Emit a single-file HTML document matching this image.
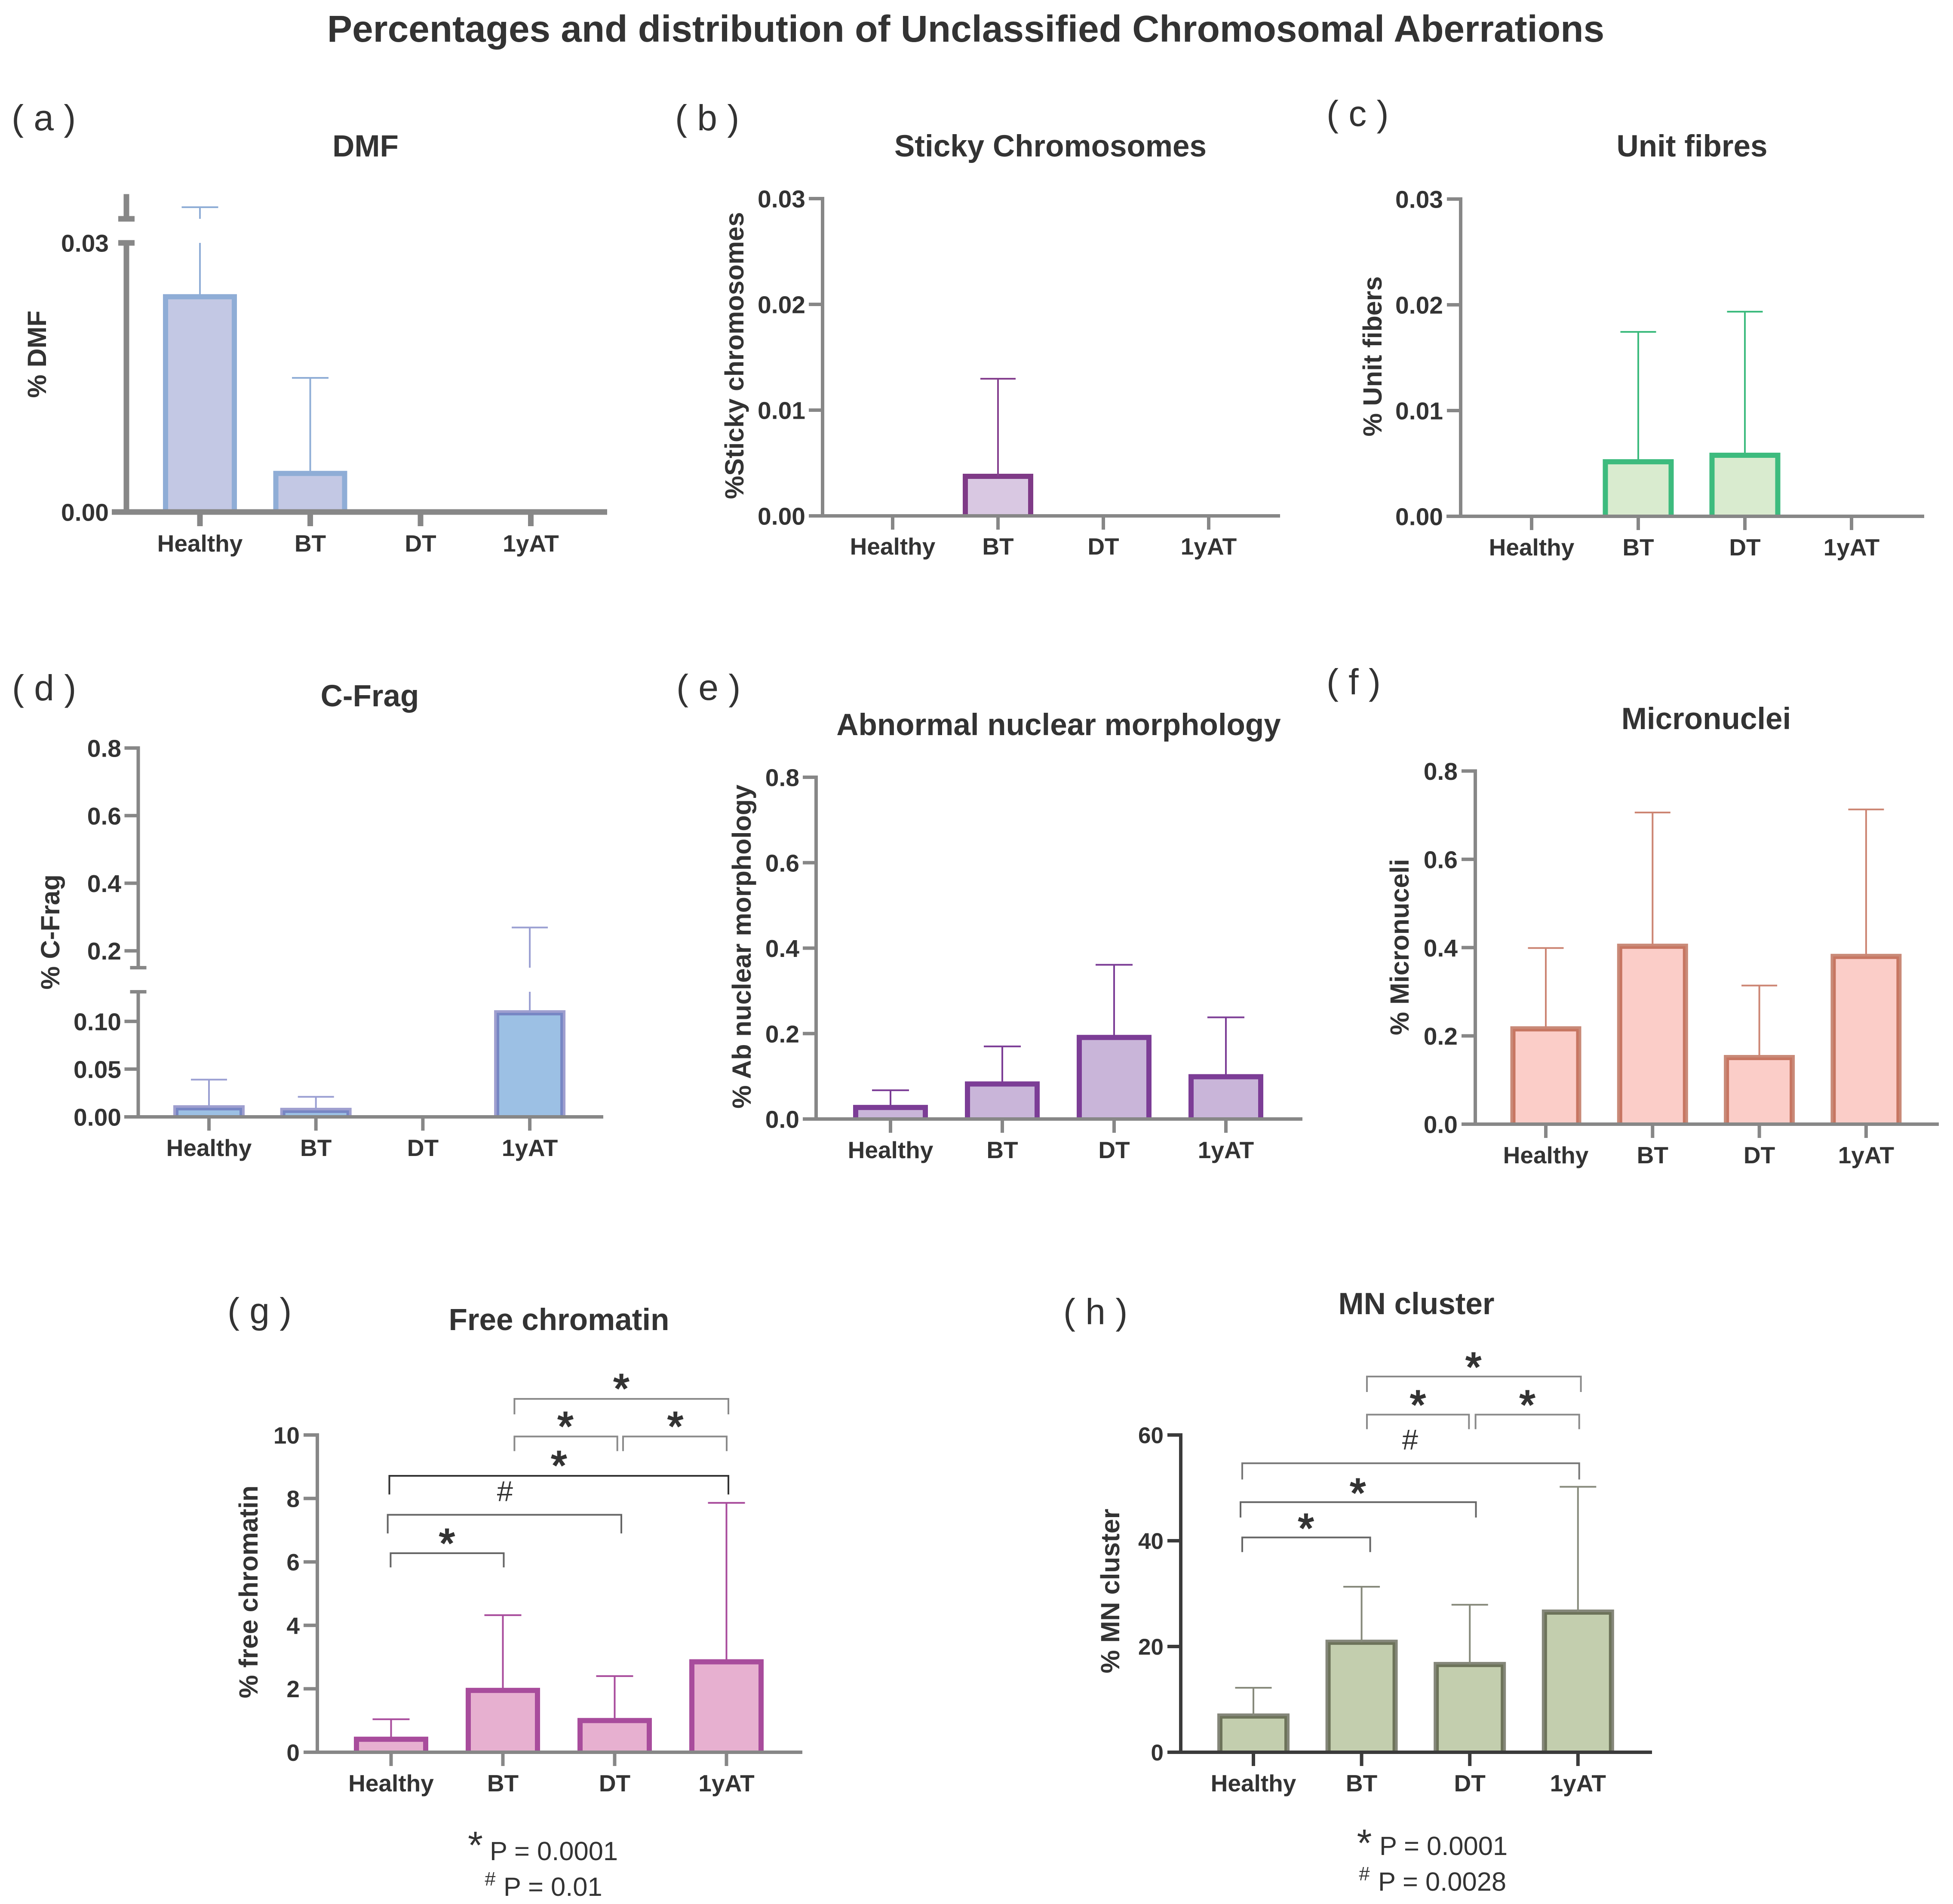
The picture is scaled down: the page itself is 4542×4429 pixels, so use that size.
<!DOCTYPE html>
<html lang="en">
<head>
<meta charset="utf-8">
<title>Percentages and distribution of Unclassified Chromosomal Aberrations</title>
<style>
html,body{margin:0;padding:0;background:#fff;}
svg{display:block;}
text{font-family:"Liberation Sans",Arial,sans-serif;fill:#333;}
.t{font-weight:700;font-size:71px;text-anchor:middle;}
.yl{font-weight:700;font-size:61px;text-anchor:middle;}
.pl{font-size:84px;fill:#333;}
.st{font-size:95px;text-anchor:middle;stroke:#333;stroke-width:3;}
.hs{font-size:67px;text-anchor:middle;}
.ft{font-size:61.5px;}
.br{fill:none;stroke-width:4;}
</style>
</head>
<body>
<svg id="chart" xmlns="http://www.w3.org/2000/svg" width="4542" height="4429" viewBox="0 0 4542 4429">
<rect width="4542" height="4429" fill="#fff"/>
<text x="2246" y="97" text-anchor="middle" font-weight="700" font-size="87.3">Percentages and distribution of Unclassified Chromosomal Aberrations</text>

<text class="pl" x="27" y="303">( a )</text>
<text class="pl" x="1570" y="303">( b )</text>
<text class="pl" x="3085" y="293">( c )</text>
<text class="pl" x="28" y="1629">( d )</text>
<text class="pl" x="1573" y="1628">( e )</text>
<text class="pl" x="3085" y="1615">( f )</text>
<text class="pl" x="529" y="3078">( g )</text>
<text class="pl" x="2473" y="3080">( h )</text>

<text class="t" x="850" y="364">DMF</text>
<text class="t" x="2443" y="364">Sticky Chromosomes</text>
<text class="t" x="3935" y="364">Unit fibres</text>
<text class="t" x="860" y="1643">C-Frag</text>
<text class="t" x="2462" y="1710">Abnormal nuclear morphology</text>
<text class="t" x="3968" y="1696">Micronuclei</text>
<text class="t" x="1300" y="3094">Free chromatin</text>
<text class="t" x="3294" y="3057">MN cluster</text>

<text class="yl" transform="translate(107,824) rotate(-90)">% DMF</text>
<text class="yl" transform="translate(1729,827) rotate(-90)">%Sticky chromosomes</text>
<text class="yl" transform="translate(3213,829) rotate(-90)">% Unit fibers</text>
<text class="yl" transform="translate(138,2168) rotate(-90)">% C-Frag</text>
<text class="yl" transform="translate(1746,2202) rotate(-90)">% Ab nuclear morphology</text>
<text class="yl" transform="translate(3276,2203) rotate(-90)">% Micronuceli</text>
<text class="yl" transform="translate(599,3703) rotate(-90)">% free chromatin</text>
<text class="yl" transform="translate(2603,3701) rotate(-90)">% MN cluster</text>

<g id="plots"></g>

<g>
<path class="br" stroke="#8a8a8a" d="M1196.4 3290V3254H1694V3290"/>
<path class="br" stroke="#8a8a8a" d="M1196.4 3375.5V3341.5H1435.7V3375.5"/>
<path class="br" stroke="#8a8a8a" d="M1449 3375.5V3341.5H1690V3375.5"/>
<path class="br" stroke="#333" d="M905.5 3476.4V3433H1694V3476.4"/>
<path class="br" stroke="#666" d="M901.7 3567V3523.6H1445V3567"/>
<path class="br" stroke="#666" d="M908.4 3646V3613H1171.5V3646"/>
<text class="st" x="1445" y="3262">*</text>
<text class="st" x="1315" y="3350">*</text>
<text class="st" x="1570.6" y="3350">*</text>
<text class="st" x="1300" y="3441">*</text>
<text class="hs" x="1174.4" y="3492">#</text>
<text class="st" x="1039.5" y="3622">*</text>
<text font-size="90" text-anchor="middle" x="1105.5" y="4323">*</text>
<text class="ft" x="1139" y="4327">P = 0.0001</text>
<text font-size="45" text-anchor="middle" x="1140" y="4386">#</text>
<text class="ft" x="1171" y="4410">P = 0.01</text>
</g>

<g>
<path class="br" stroke="#8a8a8a" d="M3179 3238V3202H3676.6V3238"/>
<path class="br" stroke="#8a8a8a" d="M3179 3324.5V3290.6H3416.3V3324.5"/>
<path class="br" stroke="#8a8a8a" d="M3431.6 3324.5V3290.6H3672.7V3324.5"/>
<path class="br" stroke="#777" d="M2889 3441.5V3403.8H3672.7V3441.5"/>
<path class="br" stroke="#666" d="M2885 3530V3494.3H3432.5V3530"/>
<path class="br" stroke="#666" d="M2889 3610.4V3576.4H3186.6V3610.4"/>
<text class="st" x="3426.8" y="3212">*</text>
<text class="st" x="3297.6" y="3300">*</text>
<text class="st" x="3552.1" y="3300">*</text>
<text class="hs" x="3279.4" y="3372">#</text>
<text class="st" x="3157.9" y="3505">*</text>
<text class="st" x="3037.3" y="3587">*</text>
<text font-size="90" text-anchor="middle" x="3173" y="4318">*</text>
<text class="ft" x="3208" y="4315">P = 0.0001</text>
<text font-size="45" text-anchor="middle" x="3173" y="4374">#</text>
<text class="ft" x="3205" y="4398">P = 0.0028</text>
</g>
</svg>

<script>
const categories = ['Healthy', 'BT', 'DT', '1yAT'];

const dmfMeans = [0.024, 0.0043, 0, 0];
const dmfUppers = [0.0406, 0.01495, 0, 0];
const dmfTicks = [0, 0.03];
const dmfTickLabels = ['0.00', '0.03'];

const stickyMeans = [0, 0.00374, 0, 0];
const stickyUppers = [0, 0.01297, 0, 0];
const stickyTicks = [0, 0.01, 0.02, 0.03];
const stickyTickLabels = ['0.00', '0.01', '0.02', '0.03'];

const unitMeans = [0, 0.00516, 0.00577, 0];
const unitUppers = [0, 0.01744, 0.01935, 0];
const unitTicks = [0, 0.01, 0.02, 0.03];
const unitTickLabels = ['0.00', '0.01', '0.02', '0.03'];

const cfragMeans = [0.0095, 0.0068, 0, 0.109];
const cfragUppers = [0.039, 0.021, 0, 0.269];
const cfragTicks = [0, 0.05, 0.1, 0.2, 0.4, 0.6, 0.8];
const cfragTickLabels = ['0.00', '0.05', '0.10', '0.2', '0.4', '0.6', '0.8'];

const abnormalMeans = [0.027, 0.082, 0.191, 0.099];
const abnormalUppers = [0.0673, 0.17, 0.361, 0.238];
const abnormalTicks = [0, 0.2, 0.4, 0.6, 0.8];
const abnormalTickLabels = ['0.0', '0.2', '0.4', '0.6', '0.8'];

const microMeans = [0.216, 0.403, 0.151, 0.38];
const microUppers = [0.399, 0.706, 0.314, 0.713];
const microTicks = [0, 0.2, 0.4, 0.6, 0.8];
const microTickLabels = ['0.0', '0.2', '0.4', '0.6', '0.8'];

const chromatinMeans = [0.41, 1.95, 1.0, 2.85];
const chromatinUppers = [1.04, 4.32, 2.4, 7.86];
const chromatinTicks = [0, 2, 4, 6, 8, 10];
const chromatinTickLabels = ['0', '2', '4', '6', '8', '10'];

const clusterMeans = [6.85, 20.8, 16.6, 26.5];
const clusterUppers = [12.2, 31.3, 27.9, 50.2];
const clusterTicks = [0, 20, 40, 60];
const clusterTickLabels = ['0', '20', '40', '60'];

const panelConfigs = [
  {key:'dmf', means:dmfMeans, uppers:dmfUppers, ticks:dmfTicks, tickLabels:dmfTickLabels,
   segments:[{d0:0,d1:0.03,y0:1191,y1:565},{d0:0.03,d1:0.05,y0:509,y1:458}],
   axisX:294, axisLeft:260, axisRight:1412, lw:13, tickLen:19, labelRight:253, tickFont:57,
   firstX:465, stepX:256.5, barW:172, tickBottom:1224, xLabelY:1283, capW:85,
   stroke:'#8fadd6', strokeOpacity:1, fill:'#c3c8e4', err:'#8fadd6', axis:'#878787'},
  {key:'sticky', means:stickyMeans, uppers:stickyUppers, ticks:stickyTicks, tickLabels:stickyTickLabels,
   segments:[{d0:0,d1:0.03,y0:1200,y1:462}],
   axisX:1913, axisLeft:1881, axisRight:2977, lw:8, tickLen:32, labelRight:1873, tickFont:57,
   firstX:2076, stepX:245, barW:164, tickBottom:1232, xLabelY:1290, capW:82,
   stroke:'#7f3a87', strokeOpacity:1, fill:'#d9c8e2', err:'#85408f', axis:'#878787'},
  {key:'unit', means:unitMeans, uppers:unitUppers, ticks:unitTicks, tickLabels:unitTickLabels,
   segments:[{d0:0,d1:0.03,y0:1201,y1:463}],
   axisX:3397, axisLeft:3364, axisRight:4475, lw:8, tickLen:32, labelRight:3356, tickFont:57,
   firstX:3562, stepX:248, barW:165, tickBottom:1233, xLabelY:1292, capW:83,
   stroke:'#3dbb7e', strokeOpacity:1, fill:'#d9ebcf', err:'#3dbb7e', axis:'#878787'},
  {key:'cfrag', means:cfragMeans, uppers:cfragUppers, ticks:cfragTicks, tickLabels:cfragTickLabels,
   segments:[{d0:0,d1:0.131,y0:2598,y1:2307},{d0:0.15,d1:0.8,y0:2251,y1:1740}],
   axisX:321.5, axisLeft:289, axisRight:1403, lw:8, tickLen:32, labelRight:282, tickFont:57,
   firstX:486, stepX:248.7, barW:166, tickBottom:2630, xLabelY:2689, capW:84,
   stroke:'#5f5faf', strokeOpacity:0.6, fill:'#9cc0e4', err:'#9a9fd2', axis:'#878787'},
  {key:'abnormal', means:abnormalMeans, uppers:abnormalUppers, ticks:abnormalTicks, tickLabels:abnormalTickLabels,
   segments:[{d0:0,d1:0.8,y0:2603,y1:1808}],
   axisX:1898, axisLeft:1867, axisRight:3029, lw:8, tickLen:31, labelRight:1859, tickFont:57,
   firstX:2071, stepX:260, barW:174, tickBottom:2635, xLabelY:2694, capW:86,
   stroke:'#7c3d96', strokeOpacity:1, fill:'#c9b5d9', err:'#7c3d96', axis:'#878787'},
  {key:'micro', means:microMeans, uppers:microUppers, ticks:microTicks, tickLabels:microTickLabels,
   segments:[{d0:0,d1:0.8,y0:2615,y1:1793.5}],
   axisX:3431, axisLeft:3399, axisRight:4509, lw:8, tickLen:32, labelRight:3390, tickFont:57,
   firstX:3595, stepX:248.3, barW:165, tickBottom:2647, xLabelY:2706, capW:83,
   stroke:'#a53c1e', strokeOpacity:0.6, fill:'#fbcdc8', err:'#cc8573', axis:'#878787'},
  {key:'chromatin', means:chromatinMeans, uppers:chromatinUppers, ticks:chromatinTicks, tickLabels:chromatinTickLabels,
   segments:[{d0:0,d1:10,y0:4076,y1:3338}],
   axisX:738, axisLeft:706, axisRight:1866, lw:8, tickLen:32, labelRight:697, tickFont:55,
   firstX:909.5, stepX:260, barW:173, tickBottom:4108, xLabelY:4167, capW:86,
   stroke:'#a84c9c', strokeOpacity:1, fill:'#e7b0d0', err:'#a84c9c', axis:'#878787'},
  {key:'cluster', means:clusterMeans, uppers:clusterUppers, ticks:clusterTicks, tickLabels:clusterTickLabels,
   segments:[{d0:0,d1:60,y0:4076,y1:3338}],
   axisX:2746, axisLeft:2715, axisRight:3842, lw:8, tickLen:31, labelRight:2706, tickFont:53,
   firstX:2915, stepX:251.6, barW:168, tickBottom:4108, xLabelY:4167, capW:85,
   stroke:'#343721', strokeOpacity:0.6, fill:'#c3ceae', err:'#878a7c', axis:'#3b3b3b'}
];

const SVG_NS = 'http://www.w3.org/2000/svg';
const BAR_STROKE = 12;
const plotsRoot = document.getElementById('plots');

function segmentIndex(cfg, v) {
  for (let i = 0; i < cfg.segments.length; i++) {
    if (v <= cfg.segments[i].d1) return i;
  }
  return cfg.segments.length - 1;
}

function yScale(cfg, v) {
  const s = cfg.segments[segmentIndex(cfg, v)];
  const clamped = Math.max(v, s.d0);
  return s.y0 + (clamped - s.d0) / (s.d1 - s.d0) * (s.y1 - s.y0);
}

function xScale(cfg, i) {
  return cfg.firstX + i * cfg.stepX;
}

function errorPath(cfg, x, mean, upper) {
  const a = segmentIndex(cfg, mean);
  const b = segmentIndex(cfg, upper);
  let d = 'M' + x + ' ' + yScale(cfg, mean);
  let idx = a;
  while (idx < b) {
    d += 'V' + cfg.segments[idx].y1;
    d += 'M' + x + ' ' + cfg.segments[idx + 1].y0;
    idx++;
  }
  d += 'V' + yScale(cfg, upper);
  return d;
}

function newEl(tag, parent) {
  const el = document.createElementNS(SVG_NS, tag);
  parent.appendChild(el);
  return el;
}

function line(el, x1, y1, x2, y2, color, w) {
  el.setAttribute('x1', x1);
  el.setAttribute('y1', y1);
  el.setAttribute('x2', x2);
  el.setAttribute('y2', y2);
  el.setAttribute('stroke', color);
  el.setAttribute('stroke-width', w);
}

function drawPanel(cfg) {
  const g = newEl('g', plotsRoot);
  
  

  const y0 = cfg.segments[0].y0;

  categories.forEach(function (cat, i) {
    const slug = cat.toLowerCase();
    const x = xScale(cfg, i);
    const mean = cfg.means[i];
    const upper = cfg.uppers[i];
    const inner = cfg.barW - BAR_STROKE;
    const top = yScale(cfg, mean);

    const fillRect = newEl('rect', g);
    
    
    fillRect.setAttribute('x', x - inner / 2);
    fillRect.setAttribute('y', top);
    fillRect.setAttribute('width', inner);
    fillRect.setAttribute('height', Math.max(0, y0 - top));
    fillRect.setAttribute('fill', cfg.fill);

    const outline = newEl('path', g);
    
    
    outline.setAttribute('d', 'M' + (x - inner / 2) + ' ' + y0 + 'V' + top + 'H' + (x + inner / 2) + 'V' + y0);
    outline.setAttribute('fill', 'none');
    outline.setAttribute('stroke', mean > 0 ? cfg.stroke : 'none');
    outline.setAttribute('stroke-opacity', cfg.strokeOpacity);
    outline.setAttribute('stroke-width', BAR_STROKE);

    const whisker = newEl('path', g);
    
    
    whisker.setAttribute('d', errorPath(cfg, x, mean, upper));
    whisker.setAttribute('fill', 'none');
    whisker.setAttribute('stroke', cfg.err);
    whisker.setAttribute('stroke-width', 4);

    const cap = newEl('line', g);
    
    
    line(cap, x - cfg.capW / 2, yScale(cfg, upper), x + cfg.capW / 2, yScale(cfg, upper), cfg.err, 4);

    const tick = newEl('line', g);
    
    
    line(tick, x, y0, x, cfg.tickBottom, cfg.axis, cfg.lw);

    const label = newEl('text', g);
    
    
    label.setAttribute('x', x);
    label.setAttribute('y', cfg.xLabelY);
    label.setAttribute('text-anchor', 'middle');
    label.setAttribute('font-weight', '700');
    label.setAttribute('font-size', 55);
    label.textContent = cat;
  });

  cfg.segments.forEach(function (s, i) {
    const spine = newEl('line', g);
    
    
    line(spine, cfg.axisX, s.y0, cfg.axisX, s.y1 - (i === cfg.segments.length - 1 ? cfg.lw / 2 : 0), cfg.axis, cfg.lw);
    if (cfg.segments.length > 1) {
      const breakMark = newEl('line', g);
      
      
      const by = i === 0 ? s.y1 : s.y0;
      line(breakMark, cfg.axisX - 19, by, cfg.axisX + 19, by, cfg.axis, cfg.lw);
    }
  });

  const xAxis = newEl('line', g);
  
  
  line(xAxis, cfg.axisLeft, y0, cfg.axisRight, y0, cfg.axis, cfg.lw);

  cfg.ticks.forEach(function (value, i) {
    const y = yScale(cfg, value);
    const tick = newEl('line', g);
    
    
    line(tick, cfg.axisX - cfg.tickLen, y, cfg.axisX, y, cfg.axis, cfg.lw);

    const label = newEl('text', g);
    
    
    label.setAttribute('x', cfg.labelRight);
    label.setAttribute('y', y + cfg.tickFont * 0.36);
    label.setAttribute('text-anchor', 'end');
    label.setAttribute('font-weight', '700');
    label.setAttribute('font-size', cfg.tickFont);
    label.textContent = cfg.tickLabels[i];
  });
}

panelConfigs.forEach(drawPanel);
</script>
</body>
</html>
